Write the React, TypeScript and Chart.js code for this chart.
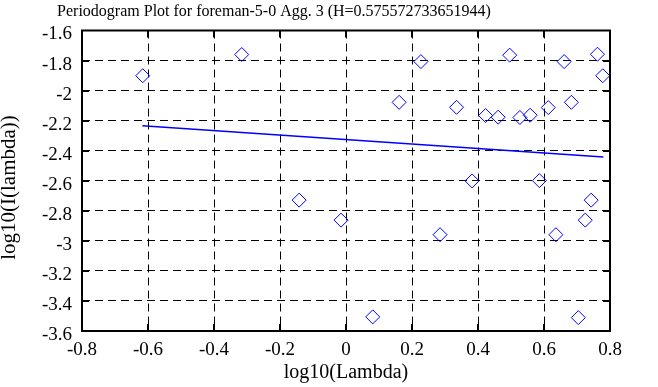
import React, { useEffect, useRef } from 'react';
import { Chart, registerables } from 'chart.js';

Chart.register(...registerables);

const TITLE = 'Periodogram Plot for foreman-5-0 Agg. 3 (H=0.575572733651944)';
const X_LABEL = 'log10(Lambda)';
const Y_LABEL = 'log10(I(lambda))';

const logLambda = [
  -0.616, -0.316, -0.142, -0.015, 0.081, 0.161, 0.227, 0.285, 0.335, 0.382,
  0.423, 0.461, 0.496, 0.527, 0.558, 0.586, 0.613, 0.636, 0.661, 0.683,
  0.704, 0.725, 0.743, 0.762, 0.778,
];
const logI = [
  -1.901, -1.760, -2.729, -2.862, -3.506, -2.078, -1.807, -2.959, -2.111, -2.601,
  -2.166, -2.177, -1.764, -2.179, -2.164, -2.599, -2.113, -2.959, -1.807, -2.078,
  -3.511, -2.862, -2.729, -1.758, -1.901,
];
const fitX = [-0.617, 0.780];
const fitY = [-2.234, -2.442];

const X_MIN = -0.8, X_MAX = 0.8, Y_MIN = -3.6, Y_MAX = -1.6, STEP = 0.2;

const SERIF = '"Liberation Serif", "Times New Roman", serif';

const fmt = (v: number) => String(Math.round(v * 10) / 10);

const framePlugin = {
  id: 'gnuFrame',
  afterDraw(chart: any) {
    const { ctx, chartArea: a, scales } = chart;
    const xs = scales.x, ys = scales.y;
    ctx.save();
    ctx.strokeStyle = '#000';
    ctx.lineWidth = 2;
    const tl = 7;
    ctx.beginPath();
    for (let v = X_MIN + STEP; v < X_MAX - 1e-9; v += STEP) {
      const px = Math.round(xs.getPixelForValue(v));
      ctx.moveTo(px, a.top); ctx.lineTo(px, a.top + tl);
      ctx.moveTo(px, a.bottom); ctx.lineTo(px, a.bottom - tl);
    }
    for (let v = Y_MIN + STEP; v < Y_MAX - 1e-9; v += STEP) {
      const py = Math.round(ys.getPixelForValue(v));
      ctx.moveTo(a.left, py); ctx.lineTo(a.left + tl, py);
      ctx.moveTo(a.right, py); ctx.lineTo(a.right - tl, py);
    }
    ctx.stroke();
    ctx.strokeRect(a.left, a.top, a.right - a.left, a.bottom - a.top);

    ctx.fillStyle = '#000';
    ctx.font = '16px ' + SERIF;
    ctx.textAlign = 'center';
    ctx.textBaseline = 'alphabetic';
    ctx.fillText(TITLE, 274, 15.5);

    ctx.font = '20px ' + SERIF;
    ctx.fillText(X_LABEL, (a.left + a.right) / 2, 378);

    ctx.save();
    ctx.translate(9, 187.5);
    ctx.rotate(-Math.PI / 2);
    ctx.font = '21px ' + SERIF;
    ctx.textBaseline = 'middle';
    ctx.fillText(Y_LABEL, 0, 0);
    ctx.restore();
    ctx.restore();
  },
};

export default function App() {
  const ref = useRef<HTMLCanvasElement | null>(null);

  useEffect(() => {
    if (!ref.current) return;
    const scatter = logLambda.map((x, i) => ({ x, y: logI[i] }));
    const fit = fitX.map((x, i) => ({ x, y: fitY[i] }));
    const chart = new Chart(ref.current, {
      type: 'scatter',
      data: {
        datasets: [
          {
            label: 'fit',
            type: 'line',
            data: fit,
            borderColor: '#0000ff',
            borderWidth: 1.5,
            pointRadius: 0,
            fill: false,
            tension: 0,
          } as any,
          {
            label: 'periodogram',
            data: scatter,
            pointStyle: 'rectRot',
            pointRadius: 7,
            pointBorderWidth: 1,
            pointBorderColor: '#0000ff',
            pointBackgroundColor: 'rgba(0,0,0,0)',
            borderColor: '#0000ff',
            backgroundColor: 'rgba(0,0,0,0)',
          },
        ],
      },
      options: {
        animation: false,
        responsive: false,
        devicePixelRatio: 1,
        layout: { padding: { top: 30.5, right: 48, left: 0, bottom: 0 } },
        plugins: {
          legend: { display: false },
          tooltip: { enabled: false },
          title: { display: false },
        },
        scales: {
          x: {
            type: 'linear',
            min: X_MIN,
            max: X_MAX,
            afterFit: (s: any) => { s.height = 56; },
            border: { display: false, dash: [8, 5] },
            grid: { color: '#000', lineWidth: 1, drawTicks: false },
            ticks: {
              stepSize: STEP,
              padding: 8,
              color: '#000',
              font: { family: SERIF, size: 19 },
              maxRotation: 0,
              callback: (v: any) => fmt(Number(v)),
            },
          },
          y: {
            type: 'linear',
            min: Y_MIN,
            max: Y_MAX,
            afterFit: (s: any) => { s.width = 82; },
            border: { display: false, dash: [8, 5] },
            grid: { color: '#000', lineWidth: 1, drawTicks: false },
            ticks: {
              stepSize: STEP,
              padding: 10,
              labelOffset: 4,
              color: '#000',
              font: { family: SERIF, size: 19 },
              callback: (v: any) => fmt(Number(v)),
            },
          },
        },
      },
      plugins: [framePlugin],
    });
    return () => chart.destroy();
  }, []);

  return (
    <div style={{ position: 'absolute', left: 0, top: 0, width: 658, height: 387, background: '#fff' }}>
      <canvas ref={ref} width={658} height={387} style={{ display: 'block' }} />
    </div>
  );
}
